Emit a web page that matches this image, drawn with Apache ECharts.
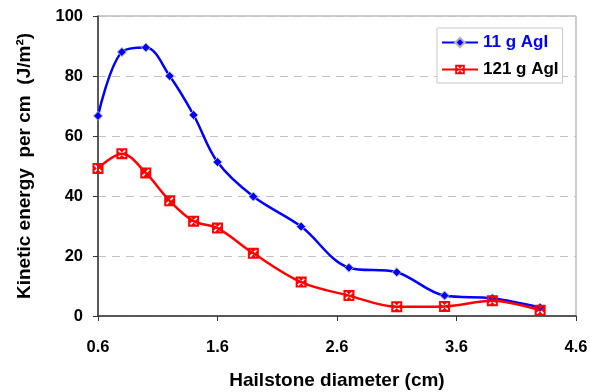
<!DOCTYPE html>
<html>
<head>
<meta charset="utf-8">
<script src="https://cdn.jsdelivr.net/npm/echarts@6/dist/echarts.min.js"></script>
<style>
  html, body { margin: 0; padding: 0; background: #fff; }
  #chart { width: 590px; height: 392px; }
</style>
</head>
<body>
<div id="chart"></div>
<script>
// hailstone diameter (cm)
var diameters = [0.6, 0.8, 1.0, 1.2, 1.4, 1.6, 1.9, 2.3, 2.7, 3.1, 3.5, 3.9, 4.3];
// kinetic energy per cm (J/m2)
var agi11 = [66.7, 88, 89.5, 80, 67, 51.3, 39.8, 29.8, 16.1, 14.6, 6.8, 5.9, 2.8];
var agi121 = [49.2, 54.1, 47.7, 38.4, 31.6, 29.3, 20.9, 11.3, 6.8, 3.1, 3.2, 5.1, 1.9];
var seriesNames = ['11 g AgI', '121 g AgI'];

function pairs(xs, ys) {
  return xs.map(function (x, i) { return [x, ys[i]]; });
}

// red square with a white x cut out (reverse winding makes the hole)
var crossBox = 'path://M0 0L10 0L10 10L0 10Z' +
  'M3.9 5L1.5 7.4L2.6 8.5L5 6.1L7.4 8.5L8.5 7.4L6.1 5L8.5 2.6L7.4 1.5L5 3.9L2.6 1.5L1.5 2.6Z';

var font = '"Liberation Sans", Arial, sans-serif';

var chart = echarts.init(document.getElementById('chart'), null, { renderer: 'canvas' });

var option = {
  animation: false,
  textStyle: { fontFamily: font },
  grid: {
    left: 98,
    right: 14,
    top: 16,
    bottom: 76,
    outerBoundsMode: 'none',
    containLabel: false,
    show: true,
    borderColor: '#9a9a9a',
    borderWidth: 1
  },
  legend: {
    orient: 'vertical',
    left: 437,
    top: 28,
    padding: [6, 4, 5, 4],
    itemGap: 10,
    itemWidth: 36,
    itemHeight: 12,
    borderColor: '#c8c8c8',
    borderWidth: 1,
    backgroundColor: '#fff',
    textStyle: { fontSize: 17, fontWeight: 'bold', fontFamily: font },
    data: [
      { name: seriesNames[0], textStyle: { color: '#0000ff' } },
      { name: seriesNames[1], textStyle: { color: '#000' } }
    ]
  },
  xAxis: {
    type: 'value',
    min: 0.6,
    max: 4.6,
    interval: 1,
    name: 'Hailstone diameter (cm)',
    nameLocation: 'middle',
    nameGap: 55,
    nameTextStyle: { fontSize: 19, fontWeight: 'bold', color: '#000' },
    axisLine: { lineStyle: { color: '#333', width: 1.5 } },
    axisTick: { show: true, length: 5, lineStyle: { color: '#333' } },
    axisLabel: {
      fontSize: 16.5, fontWeight: 'bold', color: '#000', margin: 23,
      formatter: function (v) { return v.toFixed(1); }
    },
    splitLine: { show: false }
  },
  yAxis: {
    type: 'value',
    min: 0,
    max: 100,
    interval: 20,
    name: 'Kinetic energy  per cm  (J/m²)',
    nameLocation: 'middle',
    nameGap: 64,
    nameTextStyle: { fontSize: 19, fontWeight: 'bold', color: '#000' },
    axisLine: { show: true, lineStyle: { color: '#333', width: 1.5 } },
    axisTick: { show: true, length: 5, lineStyle: { color: '#333' } },
    axisLabel: { fontSize: 16.5, fontWeight: 'bold', color: '#000', margin: 15 },
    splitLine: { show: true, lineStyle: { color: '#c4c4c4', type: [8, 6], width: 1 } }
  },
  series: [
    {
      name: seriesNames[0],
      type: 'line',
      smooth: 0.35,
      data: pairs(diameters, agi11),
      symbol: 'diamond',
      symbolSize: 9,
      lineStyle: { color: '#0000ff', width: 2.5 },
      itemStyle: { color: '#0000ff', borderColor: '#b8b8b8', borderWidth: 1 },
      z: 2
    },
    {
      name: seriesNames[1],
      type: 'line',
      smooth: 0.35,
      data: pairs(diameters, agi121),
      symbol: crossBox,
      symbolSize: 11,
      lineStyle: { color: '#ff0000', width: 2.5 },
      itemStyle: { color: '#ff0000', borderWidth: 0 },
      z: 3
    }
  ]
};

chart.setOption(option);
</script>
</body>
</html>
